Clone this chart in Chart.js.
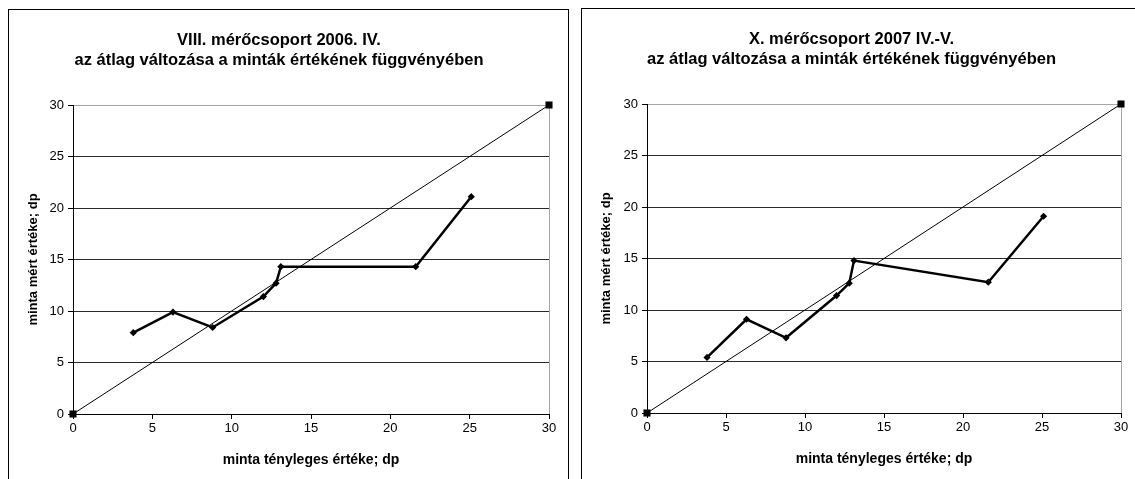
<!DOCTYPE html>
<html lang="hu">
<head>
<meta charset="utf-8">
<script src="https://cdn.jsdelivr.net/npm/chart.js@4.4.1/dist/chart.umd.min.js"></script>
<style>
  html, body { margin: 0; padding: 0; background: #fff; overflow: hidden; }
  body { width: 1135px; height: 479px; position: relative; }
  .frame { position: absolute; border: 1px solid #000; box-sizing: border-box; }
  #frameA { left: 8px; top: 9px; width: 561px; height: 480px; }
  #frameB { left: 581px; top: 8px; width: 560px; height: 480px; }
  canvas { position: absolute; }
  #chartA { left: 9px; top: 10px; }
  #chartB { left: 582px; top: 9px; }
</style>
</head>
<body>
<div class="frame" id="frameA"></div>
<div class="frame" id="frameB"></div>
<canvas id="chartA" width="559" height="470"></canvas>
<canvas id="chartB" width="557" height="471"></canvas>
<script>
// Actual (reference) values of the samples, dp
const sampleActual = [3.8, 6.3, 8.8, 12.0, 12.8, 13.1, 21.6, 25.1];
// Measured mean values, dp
const measured2006 = [7.9, 9.9, 8.4, 11.4, 12.7, 14.3, 14.3, 21.1];
const measured2007 = [5.4, 9.1, 7.3, 11.4, 12.6, 14.8, 12.7, 19.1];
// Ideal line: measured = actual
const idealX = [0, 30];
const idealY = [0, 30];

const titleA = ['VIII. mérőcsoport 2006. IV.', 'az átlag változása a minták értékének függvényében'];
const titleB = ['X. mérőcsoport 2007 IV.-V.', 'az átlag változása a minták értékének függvényében'];
const xAxisTitle = 'minta tényleges értéke; dp';
const yAxisTitle = 'minta mért értéke; dp';
const axisMin = 0, axisMax = 30, axisStep = 5;

const FONT = '"Liberation Sans", Arial, Helvetica, sans-serif';

function pairs(xs, ys) { return xs.map((x, i) => ({ x: x, y: ys[i] })); }

function makeChart(id, titleLines, measured, geom) {
  const canvas = document.getElementById(id);
  return new Chart(canvas, {
    type: 'scatter',
    data: {
      datasets: [
        {
          data: pairs(sampleActual, measured),
          showLine: true,
          borderColor: '#000',
          backgroundColor: '#000',
          borderWidth: 2.5,
          pointStyle: 'rectRot',
          pointRadius: 3.6,
          pointBorderWidth: 0,
          clip: false
        },
        {
          data: pairs(idealX, idealY),
          showLine: true,
          borderColor: '#000',
          backgroundColor: '#000',
          borderWidth: 1,
          pointStyle: 'rect',
          pointRadius: 5,
          pointBorderWidth: 0,
          clip: false
        }
      ]
    },
    options: {
      responsive: false,
      animation: false,
      devicePixelRatio: 1,
      layout: { padding: { left: 0, top: 0, right: geom.right, bottom: geom.bottom } },
      plugins: {
        legend: { display: false },
        tooltip: { enabled: false },
        title: {
          display: true,
          text: titleLines,
          color: '#000',
          font: { family: FONT, size: 16.5, weight: 'bold', lineHeight: 20 / 16.5 },
          padding: { top: 20, bottom: 35 }
        }
      },
      scales: {
        x: {
          type: 'linear',
          min: axisMin, max: axisMax,
          afterFit: s => { s.height = 60; },
          ticks: {
            stepSize: axisStep, color: '#000', padding: 2,
            maxRotation: 0,
            font: { family: FONT, size: 13 }
          },
          grid: {
            color: c => (c.tick && c.tick.value === axisMax) ? '#a6a6a6' : 'rgba(0,0,0,0)',
            tickColor: '#000',
            tickLength: 5,
            lineWidth: 1
          },
          border: { display: true, color: '#000', width: 1 },
          title: {
            display: true, text: xAxisTitle, color: '#000',
            font: { family: FONT, size: 14, weight: 'bold' },
            padding: { top: 0, bottom: 5 }
          }
        },
        y: {
          type: 'linear',
          min: axisMin, max: axisMax,
          afterFit: s => { s.width = geom.left; },
          ticks: {
            stepSize: axisStep, color: '#000', padding: 4,
            font: { family: FONT, size: 13 }
          },
          grid: {
            color: c => (c.tick && c.tick.value === axisMax) ? '#a6a6a6' : '#2a2a2a',
            tickColor: '#000',
            tickLength: 5,
            lineWidth: 1
          },
          border: { display: true, color: '#000', width: 1 },
          title: {
            display: true, text: yAxisTitle, color: '#000',
            font: { family: FONT, size: 13, weight: 'bold' },
            padding: { top: 17, bottom: 0 }
          }
        }
      }
    }
  });
}

makeChart('chartA', titleA, measured2006, { left: 64, right: 19, bottom: 6 });
makeChart('chartB', titleB, measured2007, { left: 65, right: 18, bottom: 7 });
</script>
</body>
</html>
